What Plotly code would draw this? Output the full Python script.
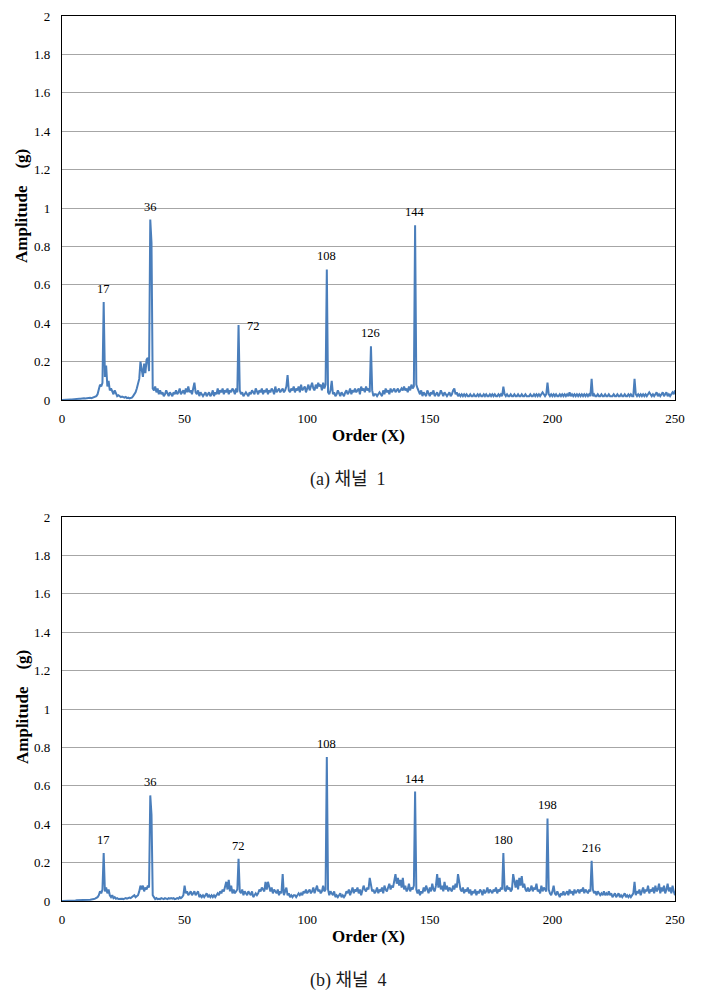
import plotly.graph_objects as go

# ---------------- data ----------------
X_START, X_STEP = 0.0, 0.5  # order axis sampling (0 .. 250)

ch1_amp = [
    0.000,0.001,0.001,0.002,0.002,0.002,0.003,0.003,0.003,0.004,
    0.004,0.005,0.005,0.006,0.007,0.006,0.008,0.007,0.009,0.008,
    0.010,0.009,0.011,0.012,0.010,0.013,0.015,0.018,0.020,0.030,
    0.060,0.080,0.070,0.090,0.510,0.120,0.180,0.070,0.100,0.050,
    0.060,0.040,0.030,0.050,0.030,0.020,0.025,0.020,0.015,0.018,
    0.015,0.012,0.016,0.010,0.012,0.008,0.010,0.012,0.020,0.030,
    0.040,0.060,0.080,0.110,0.200,0.150,0.120,0.190,0.140,0.210,
    0.220,0.150,0.940,0.820,0.060,0.050,0.070,0.040,0.060,0.030,
    0.050,0.030,0.040,0.020,0.030,0.050,0.030,0.020,0.040,0.030,
    0.020,0.040,0.030,0.050,0.030,0.040,0.060,0.030,0.040,0.050,
    0.030,0.060,0.040,0.070,0.040,0.050,0.030,0.060,0.090,0.040,
    0.030,0.050,0.020,0.040,0.030,0.020,0.030,0.040,0.020,0.030,
    0.040,0.020,0.030,0.050,0.020,0.040,0.030,0.060,0.030,0.050,
    0.040,0.060,0.030,0.050,0.040,0.060,0.030,0.050,0.040,0.060,
    0.050,0.030,0.060,0.040,0.390,0.050,0.030,0.040,0.020,0.030,
    0.040,0.030,0.020,0.040,0.030,0.050,0.040,0.030,0.060,0.040,
    0.030,0.050,0.040,0.060,0.030,0.050,0.040,0.060,0.030,0.050,
    0.040,0.060,0.050,0.030,0.070,0.040,0.050,0.060,0.040,0.050,
    0.060,0.040,0.050,0.070,0.130,0.050,0.040,0.060,0.050,0.070,
    0.040,0.060,0.050,0.070,0.040,0.080,0.050,0.060,0.070,0.040,
    0.060,0.080,0.050,0.070,0.090,0.060,0.050,0.080,0.060,0.090,
    0.070,0.080,0.050,0.090,0.060,0.080,0.680,0.040,0.030,0.050,
    0.100,0.030,0.040,0.020,0.030,0.050,0.030,0.020,0.040,0.030,
    0.020,0.040,0.050,0.030,0.040,0.060,0.030,0.050,0.040,0.060,
    0.040,0.050,0.060,0.030,0.070,0.050,0.060,0.040,0.070,0.050,
    0.060,0.040,0.280,0.050,0.020,0.030,0.030,0.020,0.030,0.040,
    0.030,0.020,0.050,0.030,0.060,0.040,0.050,0.030,0.060,0.040,
    0.050,0.060,0.040,0.050,0.060,0.040,0.050,0.060,0.050,0.070,
    0.050,0.060,0.040,0.070,0.050,0.080,0.060,0.070,0.910,0.080,
    0.060,0.040,0.030,0.050,0.020,0.040,0.030,0.020,0.050,0.030,
    0.020,0.040,0.030,0.050,0.020,0.030,0.040,0.020,0.030,0.050,
    0.030,0.020,0.040,0.030,0.020,0.030,0.040,0.020,0.030,0.050,
    0.060,0.030,0.040,0.020,0.030,0.020,0.030,0.020,0.030,0.020,
    0.030,0.020,0.020,0.030,0.020,0.020,0.030,0.020,0.020,0.030,
    0.020,0.030,0.020,0.020,0.030,0.020,0.030,0.020,0.020,0.030,
    0.020,0.030,0.020,0.030,0.020,0.020,0.030,0.020,0.030,0.020,
    0.070,0.030,0.020,0.030,0.020,0.020,0.030,0.020,0.020,0.030,
    0.020,0.020,0.030,0.020,0.020,0.030,0.020,0.020,0.030,0.020,
    0.020,0.020,0.030,0.020,0.020,0.030,0.020,0.030,0.020,0.030,
    0.020,0.030,0.040,0.030,0.020,0.030,0.090,0.030,0.020,0.030,
    0.020,0.030,0.020,0.030,0.020,0.020,0.030,0.020,0.030,0.020,
    0.030,0.020,0.030,0.020,0.040,0.020,0.030,0.020,0.030,0.020,
    0.030,0.020,0.030,0.020,0.030,0.020,0.030,0.020,0.030,0.020,
    0.030,0.020,0.110,0.020,0.030,0.020,0.020,0.030,0.020,0.020,
    0.030,0.020,0.020,0.030,0.020,0.020,0.030,0.020,0.020,0.020,
    0.030,0.020,0.020,0.030,0.020,0.020,0.030,0.020,0.020,0.030,
    0.020,0.020,0.030,0.020,0.030,0.020,0.020,0.110,0.030,0.020,
    0.030,0.020,0.030,0.020,0.030,0.020,0.030,0.020,0.030,0.040,
    0.030,0.020,0.030,0.020,0.030,0.040,0.020,0.030,0.020,0.030,
    0.040,0.020,0.030,0.040,0.020,0.030,0.020,0.030,0.040,0.030,
    0.050,
]

ch4_amp = [
    0.000,0.000,0.001,0.001,0.001,0.002,0.002,0.002,0.002,0.003,
    0.003,0.003,0.004,0.004,0.005,0.005,0.006,0.005,0.006,0.006,
    0.006,0.007,0.006,0.007,0.008,0.008,0.010,0.012,0.015,0.020,
    0.030,0.050,0.040,0.060,0.250,0.050,0.070,0.040,0.060,0.030,
    0.020,0.030,0.015,0.020,0.012,0.015,0.010,0.012,0.010,0.012,
    0.010,0.012,0.015,0.012,0.015,0.018,0.015,0.020,0.025,0.030,
    0.020,0.025,0.030,0.050,0.080,0.060,0.080,0.050,0.070,0.060,
    0.080,0.070,0.550,0.450,0.030,0.020,0.010,0.015,0.010,0.012,
    0.010,0.015,0.012,0.010,0.015,0.012,0.010,0.015,0.012,0.015,
    0.012,0.015,0.010,0.012,0.015,0.012,0.020,0.015,0.020,0.030,
    0.080,0.040,0.050,0.030,0.040,0.050,0.030,0.040,0.050,0.030,
    0.040,0.050,0.020,0.030,0.020,0.030,0.020,0.030,0.040,0.020,
    0.030,0.020,0.030,0.020,0.030,0.020,0.030,0.040,0.030,0.050,
    0.040,0.060,0.050,0.070,0.100,0.060,0.110,0.050,0.080,0.040,
    0.060,0.040,0.050,0.060,0.220,0.050,0.040,0.060,0.030,0.050,
    0.040,0.030,0.050,0.040,0.030,0.050,0.020,0.030,0.040,0.030,
    0.040,0.060,0.050,0.070,0.060,0.050,0.100,0.060,0.100,0.070,
    0.050,0.070,0.040,0.060,0.050,0.040,0.060,0.030,0.050,0.040,
    0.140,0.030,0.050,0.070,0.030,0.040,0.020,0.030,0.020,0.030,
    0.030,0.020,0.030,0.040,0.030,0.040,0.030,0.050,0.040,0.060,
    0.040,0.050,0.060,0.040,0.050,0.070,0.040,0.060,0.080,0.050,
    0.060,0.040,0.050,0.080,0.050,0.060,0.750,0.060,0.030,0.050,
    0.040,0.030,0.050,0.020,0.030,0.020,0.030,0.040,0.020,0.030,
    0.020,0.030,0.050,0.040,0.060,0.030,0.050,0.070,0.040,0.060,
    0.050,0.070,0.040,0.060,0.030,0.050,0.080,0.060,0.050,0.070,
    0.060,0.120,0.070,0.050,0.060,0.040,0.050,0.070,0.040,0.060,
    0.050,0.070,0.040,0.080,0.060,0.050,0.070,0.090,0.060,0.080,
    0.070,0.100,0.140,0.090,0.120,0.080,0.110,0.070,0.120,0.060,
    0.080,0.050,0.060,0.090,0.050,0.070,0.060,0.080,0.570,0.060,
    0.040,0.060,0.030,0.050,0.040,0.070,0.050,0.080,0.060,0.040,
    0.070,0.050,0.090,0.060,0.050,0.080,0.140,0.070,0.120,0.060,
    0.080,0.050,0.100,0.060,0.080,0.050,0.070,0.060,0.050,0.080,
    0.060,0.090,0.070,0.140,0.090,0.060,0.050,0.070,0.040,0.060,
    0.050,0.070,0.040,0.060,0.030,0.050,0.040,0.060,0.030,0.050,
    0.040,0.060,0.050,0.030,0.060,0.040,0.050,0.070,0.040,0.060,
    0.050,0.040,0.060,0.050,0.070,0.040,0.060,0.050,0.070,0.060,
    0.250,0.060,0.050,0.080,0.060,0.070,0.050,0.060,0.140,0.090,
    0.070,0.110,0.060,0.120,0.080,0.130,0.070,0.090,0.060,0.050,
    0.070,0.050,0.060,0.080,0.050,0.070,0.060,0.090,0.050,0.060,
    0.040,0.080,0.050,0.070,0.060,0.050,0.430,0.060,0.040,0.030,
    0.050,0.080,0.040,0.030,0.050,0.030,0.020,0.040,0.030,0.050,
    0.030,0.040,0.050,0.030,0.060,0.040,0.050,0.030,0.060,0.040,
    0.050,0.060,0.040,0.060,0.050,0.070,0.040,0.060,0.050,0.040,
    0.060,0.050,0.210,0.060,0.040,0.050,0.030,0.050,0.040,0.030,
    0.040,0.030,0.050,0.030,0.040,0.030,0.050,0.030,0.040,0.020,
    0.030,0.040,0.020,0.030,0.040,0.020,0.030,0.020,0.030,0.040,
    0.020,0.030,0.020,0.030,0.020,0.030,0.040,0.100,0.030,0.050,
    0.040,0.060,0.030,0.050,0.070,0.040,0.060,0.050,0.080,0.040,
    0.060,0.050,0.070,0.040,0.080,0.050,0.060,0.090,0.040,0.070,
    0.050,0.080,0.040,0.060,0.090,0.050,0.070,0.040,0.080,0.050,
    0.030,
]

ch1_peaks = [17, 36, 72, 108, 126, 144]
ch4_peaks = [17, 36, 72, 108, 144, 180, 198, 216]
side_labels_ch1 = [72]          # label drawn to the right of the peak

x_ticks = [0, 50, 100, 150, 200, 250]
y_ticks = [0, 0.2, 0.4, 0.6, 0.8, 1, 1.2, 1.4, 1.6, 1.8, 2]

captions = ["(a)\u00a0채널\u00a0\u00a01", "(b)\u00a0채널\u00a0\u00a04"]
x_title = "Order (X)"
y_title = "Amplitude\u00a0\u00a0\u00a0\u00a0(g)"

# ---------------- figure ----------------
# page body has an 8px margin: target pixel p maps to figure pixel p - 8
OFF = 8
W, H = 705 - OFF, 994 - OFF
orders1 = [X_START + i * X_STEP for i in range(len(ch1_amp))]
orders4 = [X_START + i * X_STEP for i in range(len(ch4_amp))]

LINE = "#4A7EBB"
SERIF = "Liberation Serif, Times New Roman, serif"

def px(pix):
    return (pix - OFF) / W

def py(pix):
    return 1 - (pix - OFF) / H

x_dom = [px(62), px(675)]
top_dom = [py(400), py(16)]
bot_dom = [py(901), py(517)]

fig = go.Figure()
fig.add_trace(go.Scatter(x=orders1, y=ch1_amp, mode="lines",
                         line=dict(color=LINE, width=2), xaxis="x", yaxis="y",
                         showlegend=False, hoverinfo="skip"))
fig.add_trace(go.Scatter(x=orders4, y=ch4_amp, mode="lines",
                         line=dict(color=LINE, width=2), xaxis="x2", yaxis="y2",
                         showlegend=False, hoverinfo="skip"))

xcommon = dict(range=[0, 250], tickvals=x_ticks, showgrid=False, zeroline=False,
               showline=True, linecolor="black", linewidth=1.3, mirror=True,
               ticks="", ticklabelstandoff=6, automargin=False,
               tickfont=dict(family=SERIF, size=13, color="black"))
ycommon = dict(range=[0, 2], tickvals=y_ticks, showgrid=True, gridcolor="#A6A6A6",
               gridwidth=1, zeroline=False, showline=True, linecolor="black",
               linewidth=1.3, mirror=True, ticks="", ticklabelstandoff=8,
               automargin=False,
               tickfont=dict(family=SERIF, size=13, color="black"))

fig.update_layout(
    width=W, height=H, margin=dict(l=0, r=0, t=0, b=0, autoexpand=False),
    paper_bgcolor="white", plot_bgcolor="white",
    xaxis=dict(domain=x_dom, anchor="y", **xcommon),
    yaxis=dict(domain=top_dom, anchor="x", **ycommon),
    xaxis2=dict(domain=x_dom, anchor="y2", **xcommon),
    yaxis2=dict(domain=bot_dom, anchor="x2", **ycommon),
)

ann = []
def peak_labels(peaks, amps, xref, yref, side=()):
    for p in peaks:
        v = amps[int(round((p - X_START) / X_STEP))]
        if p in side:
            ann.append(dict(x=p, y=v, xref=xref, yref=yref, text=str(p), showarrow=False,
                            xanchor="left", yanchor="middle", xshift=6, yshift=-1,
                            font=dict(family=SERIF, size=12.5, color="black")))
        else:
            ann.append(dict(x=p, y=v, xref=xref, yref=yref, text=str(p), showarrow=False,
                            xanchor="center", yanchor="bottom", yshift=4,
                            font=dict(family=SERIF, size=12.5, color="black")))

peak_labels(ch1_peaks, ch1_amp, "x", "y", side_labels_ch1)
peak_labels(ch4_peaks, ch4_amp, "x2", "y2")

for (yc, xt_y, cap_y, cap) in [(206, 436, 480, captions[0]), (707, 936, 980, captions[1])]:
    ann.append(dict(x=px(22), y=py(yc), xref="paper", yref="paper", text=f"<b>{y_title}</b>",
                    textangle=-90, showarrow=False, xanchor="center", yanchor="middle",
                    font=dict(family=SERIF, size=17, color="black")))
    ann.append(dict(x=px(368), y=py(xt_y), xref="paper", yref="paper", text=f"<b>{x_title}</b>",
                    showarrow=False, xanchor="center", yanchor="middle",
                    font=dict(family=SERIF, size=17, color="black")))
    ann.append(dict(x=px(348), y=py(cap_y), xref="paper", yref="paper", text=cap,
                    showarrow=False, xanchor="center", yanchor="middle",
                    font=dict(family="Liberation Serif, Noto Sans CJK KR, serif", size=18,
                              color="#1a1a1a")))

fig.update_layout(annotations=ann)
fig.write_html("out.html")
